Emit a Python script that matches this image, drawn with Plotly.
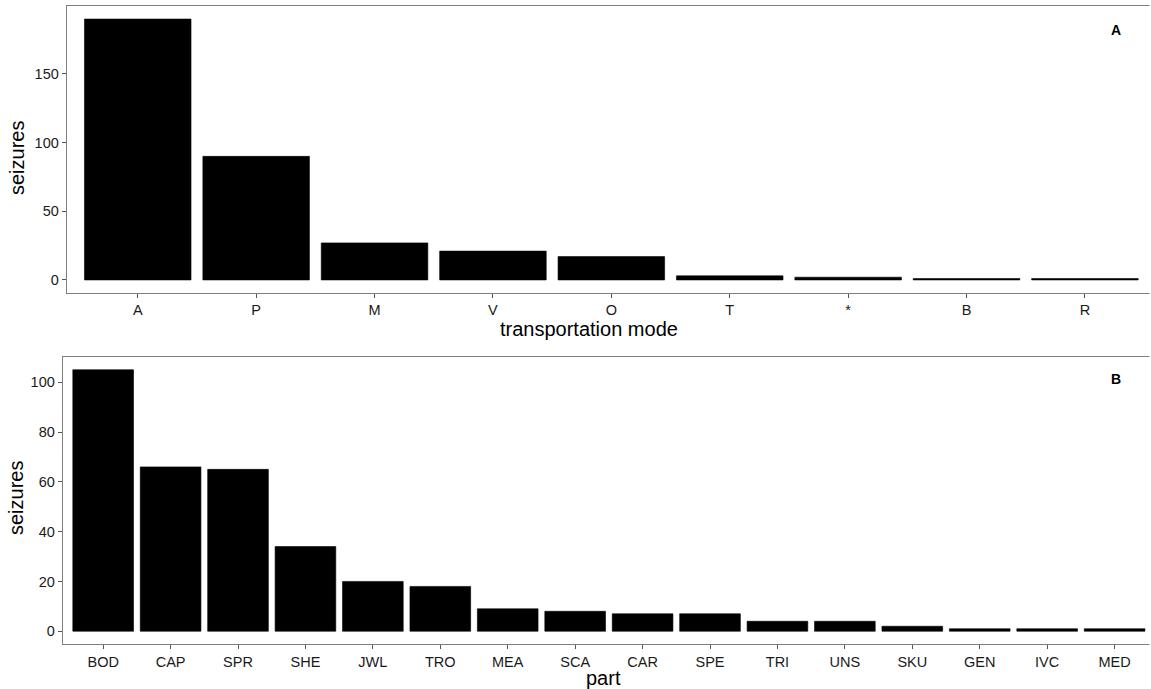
import plotly.graph_objects as go

# Panel A data
modes = ["A", "P", "M", "V", "O", "T", "*", "B", "R"]
mode_seizures = [190, 90, 27, 21, 17, 3, 2, 1, 1]

# Panel B data
parts = ["BOD", "CAP", "SPR", "SHE", "JWL", "TRO", "MEA", "SCA", "CAR", "SPE",
         "TRI", "UNS", "SKU", "GEN", "IVC", "MED"]
part_seizures = [105, 66, 65, 34, 20, 18, 9, 8, 7, 7, 4, 4, 2, 1, 1, 1]

W, H = 1151, 689
FONT = "Liberation Sans, Arial, sans-serif"
TITLE_SIZE = 20

fig = go.Figure()
fig.add_trace(go.Bar(x=modes, y=mode_seizures, xaxis="x", yaxis="y",
                     marker=dict(color="black", line=dict(color="black", width=0.6)),
                     width=0.9, showlegend=False))
fig.add_trace(go.Bar(x=parts, y=part_seizures, xaxis="x2", yaxis="y2",
                     marker=dict(color="black", line=dict(color="black", width=0.6)),
                     width=0.9, showlegend=False))

axis_common = dict(showline=True, linecolor="#7f7f7f", linewidth=1,
                   ticks="outside", ticklen=4, tickcolor="#555555", tickwidth=1,
                   showgrid=False, zeroline=False,
                   tickfont=dict(family=FONT, size=14.5, color="#1a1a1a"))

fig.update_layout(
    width=W, height=H,
    margin=dict(l=0, r=0, t=0, b=0),
    paper_bgcolor="white", plot_bgcolor="white",
    bargap=0.1,
    xaxis=dict(domain=[66.7 / W, 1], anchor="y", type="category",
               range=[-0.6, 8.558], mirror=True, **axis_common),
    yaxis=dict(domain=[1 - 293 / H, 1 - 6 / H], anchor="x",
               range=[-9.5, 199.5], tickvals=[0, 50, 100, 150], **axis_common),
    xaxis2=dict(domain=[62.7 / W, 1], anchor="y2", type="category",
                range=[-0.6, 15.54], mirror=True, **axis_common),
    yaxis2=dict(domain=[1 - 644.3 / H, 1 - 356.7 / H], anchor="x2",
                range=[-5.25, 110.25], tickvals=[0, 20, 40, 60, 80, 100], **axis_common),
    shapes=[
        dict(type="rect", xref="paper", yref="paper", x0=1 - 1.5 / W, x1=1.0,
             y0=0, y1=1, fillcolor="white", line=dict(width=0), layer="above"),
    ],
    annotations=[
        dict(text="seizures", x=17 / W, y=1 - 158 / H, xref="paper", yref="paper",
             textangle=-90, showarrow=False, xanchor="center", yanchor="middle",
             font=dict(family=FONT, size=TITLE_SIZE, color="black")),
        dict(text="seizures", x=16 / W, y=1 - 498 / H, xref="paper", yref="paper",
             textangle=-90, showarrow=False, xanchor="center", yanchor="middle",
             font=dict(family=FONT, size=TITLE_SIZE, color="black")),
        dict(text="transportation mode", x=589 / W, y=1 - 329 / H, xref="paper", yref="paper",
             showarrow=False, xanchor="center", yanchor="middle",
             font=dict(family=FONT, size=TITLE_SIZE, color="black")),
        dict(text="part", x=603 / W, y=1 - 678 / H, xref="paper", yref="paper",
             showarrow=False, xanchor="center", yanchor="middle",
             font=dict(family=FONT, size=TITLE_SIZE, color="black")),
        dict(text="<b>A</b>", x=1116 / W, y=1 - 30 / H, xref="paper", yref="paper",
             showarrow=False, xanchor="center", yanchor="middle",
             font=dict(family=FONT, size=14, color="black")),
        dict(text="<b>B</b>", x=1116 / W, y=1 - 379 / H, xref="paper", yref="paper",
             showarrow=False, xanchor="center", yanchor="middle",
             font=dict(family=FONT, size=14, color="black")),
    ],
)

fig.write_html("out.html")
